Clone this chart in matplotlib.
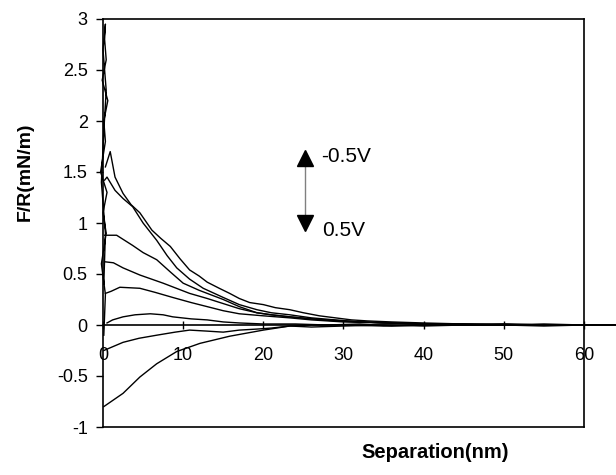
import matplotlib
matplotlib.use("Agg")
import matplotlib.pyplot as plt

plt.rcParams['font.family'] = ['Liberation Sans', 'DejaVu Sans']

# force curves F/R (mN/m) vs separation (nm), bias from -0.5V (top) to 0.5V (bottom)
c1_x = [0.3, 0.9, 1.5, 2.5, 3.5, 4.6, 6.1, 7.2, 8.4, 9.6, 10.8, 12, 13, 14.5, 15.8, 17, 18.3, 20, 21.5, 23.3, 25, 27, 29, 31, 33, 36, 40, 45, 50, 55, 60, 64]
c1_y = [1.55, 1.70, 1.45, 1.29, 1.18, 1.10, 0.93, 0.85, 0.77, 0.65, 0.54, 0.48, 0.42, 0.36, 0.31, 0.26, 0.22, 0.20, 0.17, 0.15, 0.12, 0.09, 0.07, 0.05, 0.04, 0.03, 0.02, 0.01, 0.01, 0.0, 0.0, 0.0]
c2_x = [0.2, 0.5, 1.5, 2.5, 3.7, 5, 6.7, 8, 9.2, 10.8, 12.5, 15, 17, 19.2, 21, 23.3, 26, 29, 32, 36, 40, 45, 50, 55, 60, 64]
c2_y = [1.42, 1.45, 1.32, 1.24, 1.16, 1.00, 0.83, 0.68, 0.56, 0.45, 0.36, 0.27, 0.20, 0.15, 0.12, 0.10, 0.07, 0.05, 0.03, 0.02, 0.01, 0.01, 0.0, 0.0, 0.0, 0.0]
c3_x = [0.2, 1.7, 2.5, 3.7, 5, 6.7, 8.4, 10, 12, 15, 17, 19.2, 21, 23.3, 26, 29, 32, 36, 40, 45, 50, 55, 60, 64]
c3_y = [0.88, 0.88, 0.84, 0.78, 0.71, 0.64, 0.52, 0.41, 0.34, 0.25, 0.18, 0.12, 0.10, 0.08, 0.06, 0.04, 0.03, 0.02, 0.01, 0.01, 0.0, 0.0, 0.0, 0.0]
c4_x = [0.2, 1.3, 2.5, 4.6, 7.5, 10.8, 13, 15, 17, 19.2, 21, 23.3, 26, 30, 35, 40, 45, 50, 55, 60, 64]
c4_y = [0.62, 0.61, 0.56, 0.49, 0.41, 0.31, 0.26, 0.21, 0.16, 0.12, 0.10, 0.08, 0.06, 0.04, 0.02, 0.01, 0.0, 0.01, 0.0, 0.0, 0.0]
c5_x = [0.3, 1, 2.1, 4.6, 6.5, 8.7, 11, 13, 15, 17, 20, 23.3, 26, 30, 35, 40, 45, 50, 55, 60, 64]
c5_y = [0.31, 0.33, 0.37, 0.36, 0.32, 0.27, 0.22, 0.18, 0.14, 0.11, 0.09, 0.07, 0.05, 0.03, 0.02, 0.01, 0.0, 0.0, 0.0, 0.0, 0.0]
c6_x = [0.5, 1.2, 2.5, 4, 5.9, 7.5, 8.7, 11, 13, 15, 17, 20, 24, 28, 32, 36, 40, 45, 50, 55, 60, 64]
c6_y = [0.02, 0.05, 0.08, 0.10, 0.11, 0.10, 0.08, 0.06, 0.05, 0.03, 0.02, 0.01, 0.01, 0.0, 0.01, -0.01, 0.0, 0.0, 0.0, 0.01, 0.0, 0.0]
c7_x = [0.1, 2.5, 4.5, 6.7, 9, 10.8, 13, 15, 17, 19.2, 21, 23.3, 26, 30, 35, 40, 45, 50, 55, 60, 64]
c7_y = [-0.25, -0.17, -0.13, -0.10, -0.07, -0.05, -0.06, -0.07, -0.05, -0.04, -0.03, -0.01, -0.02, -0.01, 0.0, -0.01, 0.0, 0.0, -0.01, 0.0, 0.0]
c8_x = [0.1, 2.5, 4.6, 6.7, 9.2, 12.1, 15.8, 20, 23.3, 26, 30, 35, 40, 45, 50, 55, 60, 64]
c8_y = [-0.80, -0.67, -0.51, -0.38, -0.26, -0.18, -0.11, -0.05, -0.01, 0.0, 0.0, -0.01, 0.0, 0.0, 0.0, 0.0, 0.0, 0.0]

# near-contact part (hard wall, all curves pile up at x~0)
contact_x = [0.1, 0.3, -0.2, 0.4, 0.0, 0.5, -0.3, 0.3, 0.1, 0.6, -0.1, 0.4, 0.2, 0.3, 0.0, 0.4, 0.1, -0.2, 0.3, 0.1]
contact_y = [-0.1, 0.3, 0.6, 0.9, 1.1, 1.3, 1.5, 1.8, 2.0, 2.2, 2.4, 2.6, 2.8, 2.95, 2.7, 2.3, 1.9, 1.4, 0.9, 0.4]

curves = [(c1_x, c1_y), (c2_x, c2_y), (c3_x, c3_y), (c4_x, c4_y),
          (c5_x, c5_y), (c6_x, c6_y), (c7_x, c7_y), (c8_x, c8_y)]

fig = plt.figure(figsize=(6.16, 4.75), dpi=100)
ax = fig.add_axes([103 / 616, 48 / 475, 513 / 616, 408 / 475])

for x, y in curves:
    ax.plot(x, y, color='black', lw=1.0, clip_on=False)
ax.plot(contact_x, contact_y, color='black', lw=1.0, clip_on=False)

ax.set_xlim(0, 64)
ax.set_ylim(-1, 3)

# x axis sits on y=0, the box is drawn by hand up to x=60
ax.spines['bottom'].set_position(('data', 0))
ax.spines['right'].set_visible(False)
ax.spines['top'].set_bounds(0, 60)
for s in ['bottom', 'top', 'left']:
    ax.spines[s].set_linewidth(1.2)
ax.plot([60, 60], [-1, 3], color='black', lw=1.2, clip_on=False)
ax.plot([0, 60], [-1, -1], color='black', lw=1.2, clip_on=False)

ax.set_xticks([0, 10, 20, 30, 40, 50, 60])
ax.set_yticks([-1, -0.5, 0, 0.5, 1, 1.5, 2, 2.5, 3])
ax.set_yticklabels(['-1', '-0.5', '0', '0.5', '1', '1.5', '2', '2.5', '3'])
ax.tick_params(axis='x', direction='inout', length=6, width=1, pad=13, labelsize=13)
ax.tick_params(axis='y', direction='out', length=5, width=1, pad=6, labelsize=13)

fig.text(435 / 616, 1 - 453 / 475, 'Separation(nm)', ha='center', va='center',
         fontsize=14.5, fontweight='bold')
fig.text(25 / 616, 1 - 172 / 475, 'F/R(mN/m)', ha='center', va='center',
         rotation=90, fontsize=14, fontweight='bold')

# voltage arrow
ax.plot([25.2, 25.2], [1.0, 1.64], color='gray', lw=1.0)
ax.plot([25.2], [1.64], marker='^', color='black', ms=11)
ax.plot([25.2], [1.0], marker='v', color='black', ms=11)
ax.text(27.2, 1.65, '-0.5V', fontsize=15, va='center')
ax.text(27.3, 0.93, '0.5V', fontsize=15, va='center')

fig.savefig('out.png', dpi=100)
